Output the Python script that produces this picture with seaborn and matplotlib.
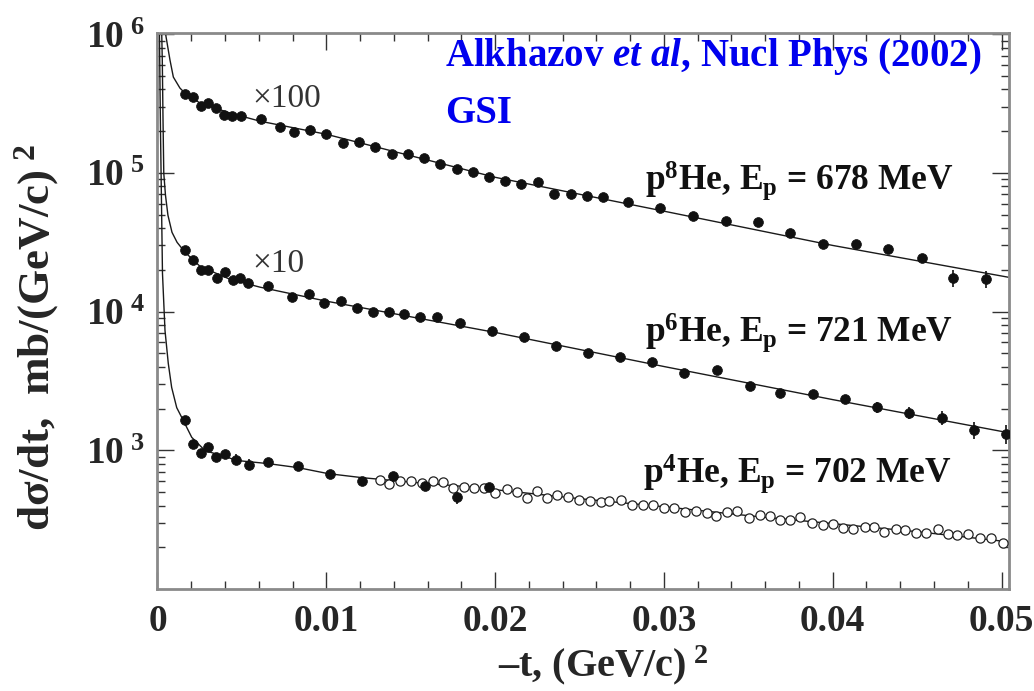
import numpy as np
import pandas as pd
import matplotlib
matplotlib.use("Agg")
import matplotlib.pyplot as plt
import seaborn as sns
from matplotlib.ticker import FixedLocator, FixedFormatter, LogLocator, MultipleLocator, FuncFormatter, NullFormatter

# p 8He (x100), filled points
t_he8 = [0.00163, 0.00210, 0.00258, 0.00299, 0.00347, 0.00394, 0.00441, 0.00495, 0.00613, 0.00726,
         0.00809, 0.00904, 0.00999, 0.01100, 0.01194, 0.01289, 0.01390, 0.01485, 0.01580, 0.01675,
         0.01776, 0.01871, 0.01966, 0.02061, 0.02156, 0.02256, 0.02350, 0.02451, 0.02546, 0.02641,
         0.02789, 0.02979, 0.03174, 0.03370, 0.03560, 0.03749, 0.03945, 0.04135, 0.04330, 0.04526,
         0.04715, 0.04905]
ds_he8 = [3.70e5, 3.52e5, 3.03e5, 3.19e5, 2.93e5, 2.61e5, 2.57e5, 2.57e5, 2.44e5, 2.14e5,
          1.97e5, 2.03e5, 1.90e5, 1.64e5, 1.67e5, 1.53e5, 1.37e5, 1.37e5, 1.28e5, 1.16e5,
          1.06e5, 1.01e5, 9.3e4, 8.7e4, 8.3e4, 8.6e4, 7.02e4, 7.02e4, 6.79e4, 6.68e4,
          6.15e4, 5.56e4, 4.87e4, 4.48e4, 4.41e4, 3.67e4, 3.06e4, 3.06e4, 2.81e4, 2.42e4,
          1.74e4, 1.71e4]
err_he8 = [0.03, 0.03, 0.03, 0.03, 0.03, 0.03, 0.03, 0.03, 0.03, 0.03,
           0.03, 0.03, 0.03, 0.03, 0.03, 0.03, 0.03, 0.03, 0.03, 0.03,
           0.03, 0.03, 0.03, 0.03, 0.03, 0.03, 0.03, 0.03, 0.03, 0.03,
           0.03, 0.03, 0.03, 0.03, 0.03, 0.04, 0.04, 0.05, 0.06, 0.08,
           0.14, 0.14]

# p 6He (x10), filled points
t_he6 = [0.00163, 0.00210, 0.00258, 0.00299, 0.00353, 0.00400, 0.00448, 0.00489, 0.00536, 0.00655,
         0.00797, 0.00898, 0.00987, 0.01088, 0.01183, 0.01278, 0.01372, 0.01461, 0.01556, 0.01657,
         0.01793, 0.01983, 0.02173, 0.02362, 0.02552, 0.02742, 0.02932, 0.03121, 0.03317, 0.03507,
         0.03690, 0.03886, 0.04070, 0.04265, 0.04449, 0.04645, 0.04834, 0.05024]
ds_he6 = [2.77e4, 2.34e4, 1.98e4, 1.98e4, 1.74e4, 1.92e4, 1.68e4, 1.74e4, 1.60e4, 1.52e4,
          1.27e4, 1.33e4, 1.16e4, 1.20e4, 1.07e4, 9.86e3, 9.86e3, 9.54e3, 9.08e3, 9.08e3,
          8.22e3, 7.20e3, 6.51e3, 5.61e3, 5.07e3, 4.67e3, 4.30e3, 3.58e3, 3.77e3, 2.89e3,
          2.61e3, 2.53e3, 2.36e3, 2.04e3, 1.87e3, 1.72e3, 1.41e3, 1.32e3]
err_he6 = [0.03, 0.03, 0.03, 0.03, 0.03, 0.03, 0.03, 0.03, 0.03, 0.03,
           0.03, 0.03, 0.03, 0.03, 0.03, 0.03, 0.03, 0.03, 0.03, 0.03,
           0.03, 0.03, 0.03, 0.03, 0.03, 0.03, 0.03, 0.03, 0.04, 0.05,
           0.05, 0.06, 0.06, 0.09, 0.10, 0.12, 0.14, 0.16]

# p 4He, filled points
t_he4 = [0.00163, 0.00212, 0.00256, 0.00301, 0.00349, 0.00400, 0.00467, 0.00541, 0.00655, 0.00835,
         0.01023, 0.01209, 0.01398, 0.01586, 0.01774, 0.01961]
ds_he4 = [1658, 1112, 962, 1051, 901, 942, 857, 788, 829, 769,
          671, 601, 657, 556, 458, 547]
err_he4 = [0.05, 0.04, 0.06, 0.04, 0.04, 0.04, 0.09, 0.09, 0.04, 0.04,
           0.04, 0.04, 0.04, 0.04, 0.10, 0.04]

# p 4He, open points
t_he4_open = [0.01319, 0.01372, 0.01437, 0.01503, 0.01568, 0.01633, 0.01692, 0.01752, 0.01817, 0.01876,
              0.01935, 0.02001, 0.02072, 0.02131, 0.02190, 0.02250, 0.02309, 0.02368, 0.02433, 0.02499,
              0.02564, 0.02629, 0.02676, 0.02748, 0.02813, 0.02878, 0.02937, 0.03002, 0.03062, 0.03127,
              0.03192, 0.03257, 0.03311, 0.03376, 0.03435, 0.03506, 0.03571, 0.03631, 0.03690, 0.03749,
              0.03809, 0.03880, 0.03945, 0.04004, 0.04063, 0.04123, 0.04194, 0.04247, 0.04306, 0.04372,
              0.04431, 0.04496, 0.04555, 0.04621, 0.04680, 0.04739, 0.04804, 0.04870, 0.04935, 0.05006]
ds_he4_open = [614, 575, 604, 604, 585, 604, 594, 538, 547, 538,
               538, 495, 529, 503, 456, 512, 456, 479, 463, 441,
               433, 426, 433, 441, 405, 405, 405, 386, 386, 361,
               367, 355, 338, 361, 367, 327, 343, 338, 316, 316,
               332, 301, 291, 296, 277, 272, 281, 281, 259, 272,
               268, 255, 255, 272, 250, 246, 250, 234, 234, 216]

# fitted curves
fit_he8_t = [0.0003, 0.0005, 0.00074, 0.00094, 0.00133, 0.00163, 0.00252, 0.0043, 0.00608, 0.01,
             0.015, 0.02, 0.03, 0.04, 0.0504]
fit_he8_y = [2.0e6, 9.7e5, 6.52e5, 4.91e5, 4.09e5, 3.76e5, 3.19e5, 2.70e5, 2.36e5, 1.90e5,
             1.33e5, 9.3e4, 5.3e4, 3.0e4, 1.77e4]
fit_he6_t = [0.0002, 0.000285, 0.000326, 0.000373, 0.000474, 0.00062, 0.00086, 0.00116, 0.00163, 0.00252,
             0.0043, 0.00608, 0.01, 0.02, 0.03, 0.04, 0.0504]
fit_he6_y = [2.0e6, 6.5e5, 2.52e5, 9.96e4, 6.9e4, 4.95e4, 3.73e4, 3.16e4, 2.68e4, 2.12e4,
             1.71e4, 1.50e4, 1.19e4, 7.08e3, 4.02e3, 2.32e3, 1.34e3]
fit_he4_t = [0.0001, 0.000178, 0.000296, 0.000445, 0.00064, 0.00084, 0.00114, 0.00153, 0.00203, 0.00282,
             0.00477, 0.00655, 0.00833, 0.01011, 0.01212, 0.01408, 0.01604, 0.01763, 0.02, 0.025,
             0.03, 0.035, 0.04, 0.045, 0.0504]
fit_he4_y = [1.5e6, 2.03e5, 1.89e4, 7.32e3, 4.23e3, 2.84e3, 2.03e3, 1.64e3, 1.24e3, 995,
             843, 802, 750, 679, 635, 604, 575, 556, 520, 448,
             392, 338, 296, 259, 219]

xtick_vals = [0, 0.01, 0.02, 0.03, 0.04, 0.05]
xtick_labels = ["0", "0.01", "0.02", "0.03", "0.04", "0.05"]
ytick_vals = [1e3, 1e4, 1e5, 1e6]

sns.set_theme(style="ticks")
plt.rcParams['font.family'] = ['Liberation Serif', 'DejaVu Serif']
plt.rcParams['font.weight'] = 'bold'
plt.rcParams['mathtext.fontset'] = 'custom'
plt.rcParams['mathtext.rm'] = 'Liberation Serif:bold'
plt.rcParams['mathtext.bf'] = 'Liberation Serif:bold'
plt.rcParams['mathtext.it'] = 'Liberation Serif:bold:italic'

fig = plt.figure(figsize=(10.34, 6.91), dpi=100)
ax = fig.add_axes([0.1523, 0.1476, 0.8235, 0.8046])
ax.set_yscale('log')

dot = '#111111'
line = '#1a1a1a'

# curves
for tt, yy in [(fit_he8_t, fit_he8_y), (fit_he6_t, fit_he6_y), (fit_he4_t, fit_he4_y)]:
    sns.lineplot(x=tt, y=yy, ax=ax, color=line, linewidth=1.0, estimator=None, sort=False, zorder=2)

# error bars
for tt, yy, ee in [(t_he8, ds_he8, err_he8), (t_he6, ds_he6, err_he6), (t_he4, ds_he4, err_he4)]:
    yy = np.array(yy)
    ax.errorbar(tt, yy, yerr=yy * np.array(ee), fmt='none', ecolor=dot, elinewidth=1.2, zorder=3)

# open circles
sns.scatterplot(x=t_he4_open, y=ds_he4_open, ax=ax, color='white', edgecolor='#222222',
                linewidth=0.9, s=44, zorder=4)

# filled points
for tt, yy in [(t_he8, ds_he8), (t_he6, ds_he6), (t_he4, ds_he4)]:
    sns.scatterplot(x=tt, y=yy, ax=ax, color=dot, edgecolor=dot, linewidth=0.5, s=50, zorder=5)

ax.set_xlim(0, 0.05044)
ax.set_ylim(1e2, 1.02e6)

ax.xaxis.set_major_locator(FixedLocator(xtick_vals))
ax.xaxis.set_major_formatter(FixedFormatter(xtick_labels))
ax.xaxis.set_minor_locator(MultipleLocator(0.002))
ax.yaxis.set_major_locator(FixedLocator(ytick_vals))
ax.yaxis.set_major_formatter(FuncFormatter(lambda v, p: r'$10^{\ %d}$' % round(np.log10(v))))
ax.yaxis.set_minor_locator(LogLocator(base=10, subs=np.arange(2, 10)))
ax.yaxis.set_minor_formatter(NullFormatter())

ax.tick_params(which='both', direction='in', top=True, right=True, color='#333333', width=1.0)
ax.tick_params(which='major', length=12, labelsize=27)
ax.tick_params(which='minor', length=6)
ax.tick_params(axis='x', which='major', pad=11)
ax.tick_params(axis='y', which='major', pad=9)
for s in ax.spines.values():
    s.set_color('#8a8a8a')
    s.set_linewidth(2.0)

ax.set_xlabel(r'–t, (GeV/c)$^{\ 2}$', fontsize=29, fontweight='bold')
ax.set_ylabel(r'dσ/dt,  mb/(GeV/c)$^{\ 2}$', fontsize=32.5, fontweight='bold')
ax.xaxis.set_label_coords(0.5236, -0.097)
ax.yaxis.set_label_coords(-0.113, 0.453)

# annotations
ax.text(0.111, 0.881, '×100', transform=ax.transAxes, fontsize=24, fontweight='normal',
        color='#333333', ha='left', va='center')
ax.text(0.111, 0.5845, '×10', transform=ax.transAxes, fontsize=24, fontweight='normal',
        color='#333333', ha='left', va='center')
ax.text(0.3376, 0.941, r'Alkhazov $\mathit{et\ al}$, Nucl Phys (2002)', transform=ax.transAxes,
        fontsize=28, fontweight='bold', color='#0000ee', ha='left', va='baseline')
ax.text(0.3376, 0.839, 'GSI', transform=ax.transAxes,
        fontsize=28, fontweight='bold', color='#0000ee', ha='left', va='baseline')
ax.text(0.5725, 0.7176, r'p$^{8}$He, E$_{\rm p}$ = 678 MeV', transform=ax.transAxes,
        fontsize=25.5, fontweight='bold', color='#111111', ha='left', va='baseline')
ax.text(0.5725, 0.4442, r'p$^{6}$He, E$_{\rm p}$ = 721 MeV', transform=ax.transAxes,
        fontsize=25.5, fontweight='bold', color='#111111', ha='left', va='baseline')
ax.text(0.5702, 0.1906, r'p$^{4}$He, E$_{\rm p}$ = 702 MeV', transform=ax.transAxes,
        fontsize=25.5, fontweight='bold', color='#111111', ha='left', va='baseline')

fig.savefig('out.png', dpi=100)
